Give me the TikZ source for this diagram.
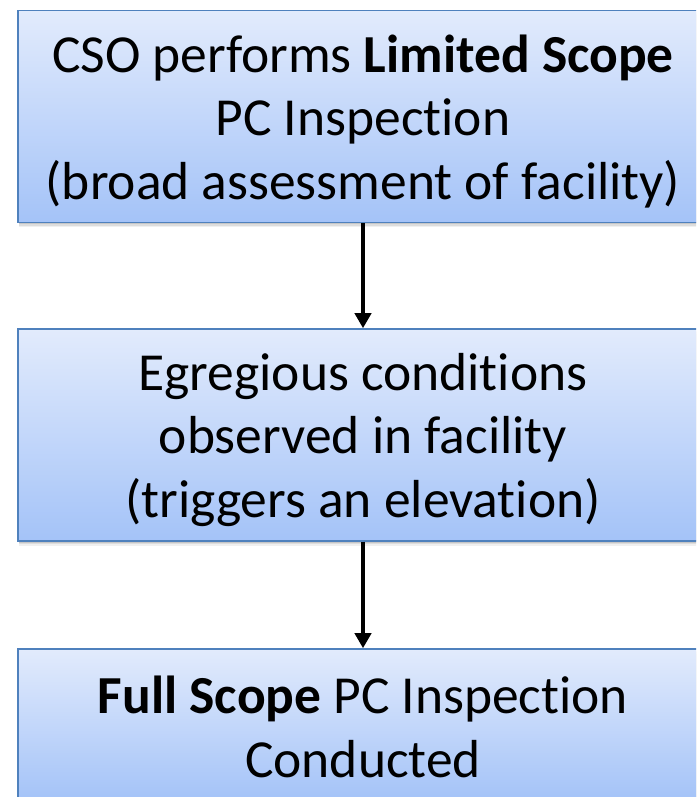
\documentclass[tikz,border=0pt]{standalone}
\usepackage{fontspec}
\setmainfont{Carlito}[Ligatures=NoCommon]
\usetikzlibrary{arrows.meta,shadows}
\definecolor{boxtop}{RGB}{226,235,252}
\definecolor{boxbot}{RGB}{164,195,248}
\definecolor{boxline}{RGB}{79,129,189}
\tikzset{
  flowbox/.style={rectangle, draw=boxline, line width=1.5pt,
    top color=boxtop, bottom color=boxbot,
    minimum width=690pt, inner sep=0pt,
    general shadow={fill=black, opacity=0.06, shadow xshift=1pt, shadow yshift=-5pt},
    general shadow={fill=black, opacity=0.08, shadow xshift=1pt, shadow yshift=-3.5pt},
    general shadow={fill=black, opacity=0.10, shadow xshift=1pt, shadow yshift=-2pt}},
  boxtext/.style={align=center, inner sep=0pt, text=black,
    font=\fontsize{53.5}{63.5}\selectfont},
  flowarrow/.style={line width=4.5pt, -{Triangle[width=16pt,length=15pt]}}
}
\begin{document}
\begin{tikzpicture}[x=1pt,y=1pt]
\useasboundingbox (0,0) rectangle (696,797);
\clip (0,0) rectangle (696,797);
\fill[white] (0,0) rectangle (696,797);
% boxes (y measured from top: 797 - py)
\node[flowbox, minimum height=212pt] (b1) at (363,680.5) {};
\node[flowbox, minimum height=212pt] (b2) at (363,362) {};
\node[flowbox, minimum height=151pt] (b3) at (363,72.5) {};
% texts
\node[boxtext] (t1) at (363,675.5) {CSO performs \textbf{Limited Scope}\\PC Inspection\\(broad assessment of facility)};
\node[boxtext] (t2) at (363,357) {Egregious conditions\\observed in facility\\(triggers an elevation)};
\node[boxtext] (t3) at (363,70) {\textbf{Full Scope} PC Inspection\\Conducted};
% arrows
\draw[flowarrow] (b1.south) -- (b2.north);
\draw[flowarrow] (b2.south) -- (b3.north);
\end{tikzpicture}
\end{document}
